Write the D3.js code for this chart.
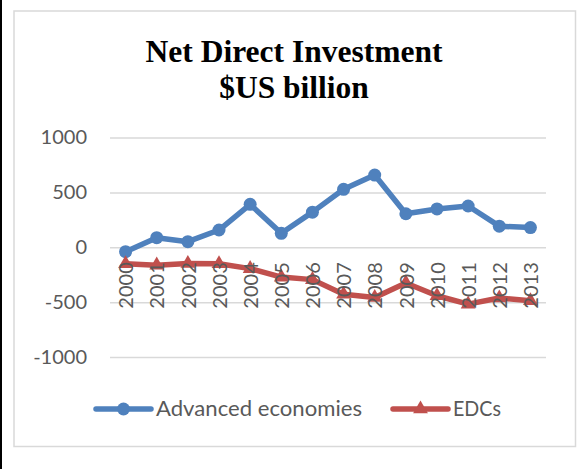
<!DOCTYPE html>
<html>
<head>
<meta charset="utf-8">
<script src="https://cdn.jsdelivr.net/npm/d3@7"></script>
<style>
  html, body { margin: 0; padding: 0; background: #fff; }
  svg { display: block; }
</style>
</head>
<body>
<svg id="chart" width="584" height="469"></svg>
<script>
// Net direct investment, $US billion
const years = ["2000","2001","2002","2003","2004","2005","2006","2007","2008","2009","2010","2011","2012","2013"];
const advancedEconomies = [-40, 87, 51, 157, 391, 127, 320, 528, 658, 305, 349, 376, 192, 179];
const edcs = [-150, -163, -148, -150, -195, -272, -295, -428, -458, -325, -442, -518, -462, -487];
const yTicks = [-1000, -500, 0, 500, 1000];
const titleLines = ["Net Direct Investment", "$US billion"];
const seriesNames = ["Advanced economies", "EDCs"];

const W = 584, H = 469;
const plot = { left: 110, right: 546, top: 137.5, bottom: 357 };
const blue = "#4F81BD", red = "#C0504D", grid = "#D9D9D9", textCol = "#595959";
const font = "Lato, 'Open Sans', sans-serif";

const svg = d3.select("#chart");

// page edge and chart frame
svg.append("rect").attr("x", 0).attr("y", 0).attr("width", 2).attr("height", H).attr("fill", "#000");
svg.append("rect").attr("x", 14).attr("y", 11).attr("width", 561.5).attr("height", 435.5)
  .attr("fill", "#fff").attr("stroke", "#D9D9D9").attr("stroke-width", 1.5);

// title
const title = svg.append("text").attr("text-anchor", "middle")
  .attr("font-family", "'Liberation Serif', 'Times New Roman', serif")
  .attr("font-weight", "bold").attr("font-size", 31.5).attr("fill", "#000");
title.selectAll("tspan").data(titleLines).join("tspan")
  .attr("x", 294).attr("y", (d, i) => 62 + i * 36).text(d => d);

const x = d3.scalePoint().domain(years).range([plot.left, plot.right]).padding(0.5);
const y = d3.scaleLinear().domain([-1000, 1000]).range([plot.bottom, plot.top]);

// value axis with horizontal gridlines (plain hyphen for negatives)
const yAxis = svg.append("g").attr("transform", `translate(${plot.left},0)`)
  .call(d3.axisLeft(y).tickValues(yTicks).tickSize(-(plot.right - plot.left)).tickPadding(23).tickFormat(d => String(d)));
yAxis.select(".domain").remove();
yAxis.selectAll(".tick line").attr("stroke", grid).attr("stroke-width", 1.5);
yAxis.selectAll(".tick text").attr("font-family", font).attr("font-size", 20).attr("fill", textCol);

// series lines and markers
const line = d3.line().x((d, i) => x(years[i])).y(d => y(d));

svg.append("path").datum(advancedEconomies).attr("d", line)
  .attr("fill", "none").attr("stroke", blue).attr("stroke-width", 5.5)
  .attr("stroke-linejoin", "round").attr("stroke-linecap", "round");
svg.append("path").datum(edcs).attr("d", line)
  .attr("fill", "none").attr("stroke", red).attr("stroke-width", 5.5)
  .attr("stroke-linejoin", "round").attr("stroke-linecap", "round");

svg.append("g").selectAll("circle").data(advancedEconomies).join("circle")
  .attr("cx", (d, i) => x(years[i])).attr("cy", d => y(d)).attr("r", 6.5).attr("fill", blue);

const tri = d3.symbol().type(d3.symbolTriangle).size(95);
svg.append("g").selectAll("path").data(edcs).join("path")
  .attr("d", tri).attr("transform", (d, i) => `translate(${x(years[i])},${y(d)})`).attr("fill", red);

// category axis labels sit below the zero line, rotated
const xAxis = svg.append("g").attr("transform", `translate(0,${y(0)})`)
  .call(d3.axisBottom(x).tickSize(0));
xAxis.select(".domain").remove();
xAxis.selectAll(".tick text")
  .attr("font-family", font).attr("font-size", 20).attr("fill", textCol)
  .attr("transform", "rotate(-90)").attr("text-anchor", "end")
  .attr("x", -15).attr("y", 0).attr("dy", "0.36em");

// legend
const legend = svg.append("g").attr("font-family", font).attr("font-size", 21).attr("fill", textCol);
const legendItems = [
  { name: seriesNames[0], color: blue, x0: 96, marker: "circle", len: 206 },
  { name: seriesNames[1], color: red, x0: 393, marker: "triangle", len: 48 }
];
const ly = 409;
legendItems.forEach(it => {
  legend.append("line").attr("x1", it.x0).attr("x2", it.x0 + 55).attr("y1", ly).attr("y2", ly)
    .attr("stroke", it.color).attr("stroke-width", 5.5).attr("stroke-linecap", "round");
  if (it.marker === "circle") {
    legend.append("circle").attr("cx", it.x0 + 27.5).attr("cy", ly).attr("r", 6.5).attr("fill", it.color);
  } else {
    legend.append("path").attr("d", tri).attr("transform", `translate(${it.x0 + 27.5},${ly})`).attr("fill", it.color);
  }
  legend.append("text").attr("x", it.x0 + 60).attr("y", ly).attr("dy", "0.35em")
    .attr("textLength", it.len).attr("lengthAdjust", "spacingAndGlyphs").text(it.name);
});
</script>
</body>
</html>
